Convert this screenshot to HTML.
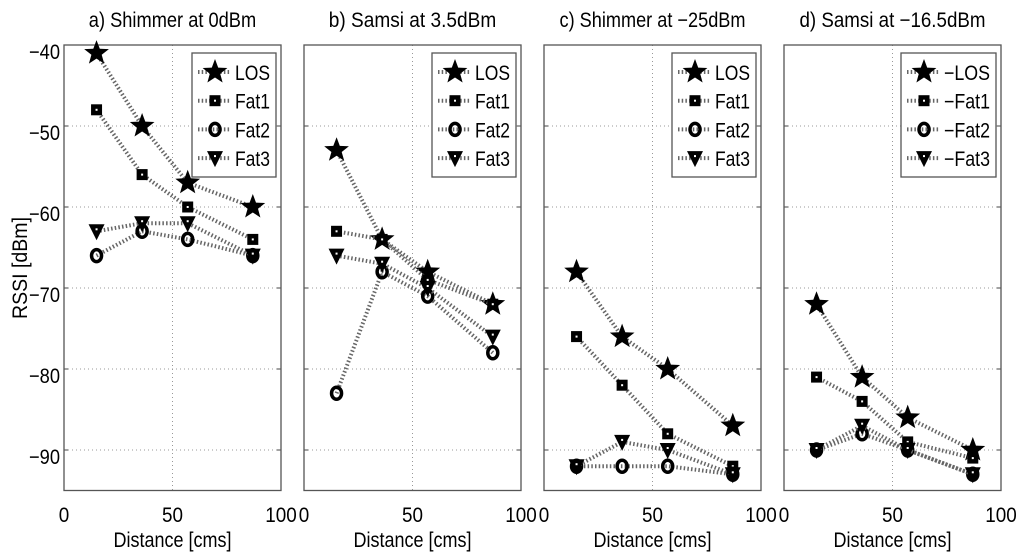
<!DOCTYPE html>
<html><head><meta charset="utf-8"><style>
html,body{margin:0;padding:0;background:#fff;}
svg{display:block;font-family:"Liberation Sans",sans-serif;}
</style></head><body>
<svg id="chart" width="1024" height="557" xmlns="http://www.w3.org/2000/svg"></svg>
<script>
const distances = [15, 36, 57, 87];
const panelTitles = ["a) Shimmer at 0dBm", "b) Samsi at 3.5dBm", "c) Shimmer at \u221225dBm", "d) Samsi at \u221216.5dBm"];
const seriesNames = ["LOS", "Fat1", "Fat2", "Fat3"];
const legendLabelsD = ["\u2212LOS", "\u2212Fat1", "\u2212Fat2", "\u2212Fat3"];
const panelA_LOS = [-41, -50, -57, -60];
const panelA_Fat1 = [-48, -56, -60, -64];
const panelA_Fat2 = [-66, -63, -64, -66];
const panelA_Fat3 = [-63, -62, -62, -66];
const panelB_LOS = [-53, -64, -68, -72];
const panelB_Fat1 = [-63, -64, -69, -72];
const panelB_Fat2 = [-83, -68, -71, -78];
const panelB_Fat3 = [-66, -67, -70, -76];
const panelC_LOS = [-68, -76, -80, -87];
const panelC_Fat1 = [-76, -82, -88, -92];
const panelC_Fat2 = [-92, -92, -92, -93];
const panelC_Fat3 = [-92, -89, -90, -93];
const panelD_LOS = [-72, -81, -86, -90];
const panelD_Fat1 = [-81, -84, -89, -91];
const panelD_Fat2 = [-90, -88, -90, -93];
const panelD_Fat3 = [-90, -87, -90, -93];
const yTicks = [-40, -50, -60, -70, -80, -90];
const yTickLabels = ["\u221240", "\u221250", "\u221260", "\u221270", "\u221280", "\u221290"];
const xTicks = [0, 50, 100];
const xTickLabels = ["0", "50", "100"];

const panels = [
  [panelA_LOS, panelA_Fat1, panelA_Fat2, panelA_Fat3],
  [panelB_LOS, panelB_Fat1, panelB_Fat2, panelB_Fat3],
  [panelC_LOS, panelC_Fat1, panelC_Fat2, panelC_Fat3],
  [panelD_LOS, panelD_Fat1, panelD_Fat2, panelD_Fat3]
];
const lefts = [64, 304, 544, 784];
const PW = 217, TOP = 45, BOT = 490.5;
const NS = "http://www.w3.org/2000/svg";
const svg = document.getElementById('chart');
function mk(tag, attrs, parent) {
  const e = document.createElementNS(NS, tag);
  for (const k in attrs) e.setAttribute(k, attrs[k]);
  (parent || svg).appendChild(e);
  return e;
}
function yS(v) { return TOP + (-40 - v) * (BOT - TOP) / 55; }
function starPts(cx, cy, R) {
  const r = R * 0.42; let p = [];
  for (let i = 0; i < 10; i++) {
    const a = -Math.PI / 2 + i * Math.PI / 5; const rr = i % 2 ? r : R;
    p.push((cx + rr * Math.cos(a)).toFixed(1) + "," + (cy + rr * Math.sin(a)).toFixed(1));
  }
  return p.join(" ");
}
function marker(g, type, cx, cy) {
  let m;
  if (type === 0) { m = mk('polygon', {points: starPts(cx, cy, 13), fill: '#000'}, g); }
  else if (type === 1) { m = mk('rect', {x: cx - 5.5, y: cy - 5.5, width: 11, height: 11, fill: '#000'}, g); mk('rect', {x: cx - 1, y: cy - 1, width: 2, height: 2, fill: '#fff'}, g); }
  else if (type === 2) { m = mk('ellipse', {cx: cx, cy: cy, rx: 5, ry: 6, fill: 'none', stroke: '#000', 'stroke-width': 3.5}, g); }
  else { m = mk('polygon', {points: `${cx-8},${cy-7} ${cx+8},${cy-7} ${cx},${cy+9}`, fill: '#000'}, g); mk('rect', {x: cx - 1, y: cy - 3, width: 2, height: 2, fill: '#fff'}, g); }
  return m;
}
mk('text', {x: 0, y: 0, 'font-size': 21, 'text-anchor': 'middle', transform: 'translate(27,268) rotate(-90)', textLength: 102, lengthAdjust: 'spacingAndGlyphs',  }).textContent = "RSSI [dBm]";

panels.forEach((series, pi) => {
  const L = lefts[pi];
  const xS = d => L + d * PW / 100;
  const g = mk('g', { });
  mk('rect', {x: L, y: TOP, width: PW, height: BOT - TOP, fill: '#fff'}, g);
  yTicks.forEach((t, i) => {
    const y = yS(t);
    if (i > 0) mk('line', {x1: L, x2: L + PW, y1: y, y2: y, stroke: '#999', 'stroke-width': 1, 'stroke-dasharray': '1 3'}, g);
    mk('line', {x1: L, x2: L + 4, y1: y, y2: y, stroke: '#444'}, g);
    mk('line', {x1: L + PW - 4, x2: L + PW, y1: y, y2: y, stroke: '#444'}, g);
    if (pi === 0) {
      const t2 = mk('text', {x: L - 4, y: y + 14, 'font-size': 21, 'text-anchor': 'end', textLength: 31, lengthAdjust: 'spacingAndGlyphs',  }, g);
      t2.textContent = yTickLabels[i];
    }
  });
  xTicks.forEach((t, i) => {
    const x = xS(t);
    if (i === 1) mk('line', {x1: x, x2: x, y1: TOP, y2: BOT, stroke: '#999', 'stroke-width': 1, 'stroke-dasharray': '1 3'}, g);
    const tl = mk('text', {x: x, y: 522, 'font-size': 21, 'text-anchor': 'middle',  }, g);
    tl.setAttribute('textLength', xTickLabels[i].length * 10.5);
    tl.setAttribute('lengthAdjust', 'spacingAndGlyphs');
    tl.textContent = xTickLabels[i];
  });
  mk('rect', {x: L, y: TOP, width: PW, height: BOT - TOP, fill: 'none', stroke: '#555', 'stroke-width': 1.3}, g);
  const tt = mk('text', {x: L + PW / 2, y: 27, 'font-size': 21, 'text-anchor': 'middle',  }, g);
  tt.setAttribute('textLength', panelTitles[pi].length * 9.3);
  tt.setAttribute('lengthAdjust', 'spacingAndGlyphs');
  tt.textContent = panelTitles[pi];
  const xl = mk('text', {x: L + PW / 2, y: 547, 'font-size': 21, 'text-anchor': 'middle', textLength: 118, lengthAdjust: 'spacingAndGlyphs',  }, g);
  xl.textContent = "Distance [cms]";
  series.forEach((vals, si) => {
    const sg = mk('g', {}, g);
    
    
    const pts = vals.map((v, k) => xS(distances[k]).toFixed(1) + "," + yS(v).toFixed(1)).join(" ");
    mk('polyline', {points: pts, fill: 'none', stroke: '#666', 'stroke-width': 4, 'stroke-dasharray': '1.5 2.2'}, sg);
    vals.forEach((v, k) => {
      const m = marker(sg, si, xS(distances[k]), yS(v));
      
      
    });
  });
  // legend
  const wide = pi === 3;
  const bx = wide ? 901 : L + 128, bw = wide ? 95 : 84;
  const lg = mk('g', { }, g);
  mk('rect', {x: bx, y: 53, width: bw, height: 124, fill: '#fff', stroke: '#555', 'stroke-width': 1.3}, lg);
  const labels = wide ? legendLabelsD : seriesNames;
  labels.forEach((lab, si) => {
    const ry = 72 + si * 28.7;
    const eg = mk('g', { }, lg);
    const lx0 = bx + 6, mx = bx + 23;
    mk('line', {x1: lx0, x2: lx0 + 32, y1: ry, y2: ry, stroke: '#666', 'stroke-width': 4, 'stroke-dasharray': '1.5 2.2'}, eg);
    marker(eg, si, mx, ry);
    const t = mk('text', {x: bx + 43, y: ry + 8, 'font-size': 21, textLength: wide ? 46 : 35, lengthAdjust: 'spacingAndGlyphs'}, eg);
    t.textContent = lab;
  });
});
</script>
</body></html>
